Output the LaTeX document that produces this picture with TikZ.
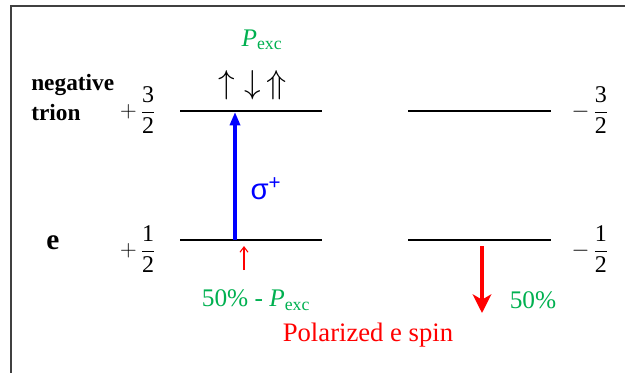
\documentclass[tikz,border=0pt]{standalone}
\usepackage{fontspec}
\setmainfont{Liberation Serif}
\newfontfamily\arialfont{Liberation Sans}
\usepackage{tikz}
\usetikzlibrary{arrows.meta, positioning}
\definecolor{mygreen}{HTML}{00B050}
\definecolor{framegray}{HTML}{404040}
\newcommand{\Pexc}{{\itshape P}\textsubscript{exc}}
\tikzset{
	level/.style={
			line width=1.6pt,
			draw=black
		},
	pump/.style={
			line width=2.4pt,
			draw=blue,
			-{Triangle[length=10pt,width=7.5pt]}
		},
	relaxsmall/.style={
			line width=0.8pt,
			draw=red,
			-{Straight Barb[length=4pt,width=6pt]}
		},
	relaxbig/.style={
			line width=2.6pt,
			draw=red,
			-{Stealth[length=14pt,width=14pt,inset=4pt]}
		},
	spinnode/.style={
			inner sep=0pt,
			font=\fontsize{23}{23}\selectfont
		},
	fracnode/.style={
			inner sep=0pt,
			font=\fontsize{18}{20}\selectfont
		},
	namenode/.style={
			inner sep=0pt,
			align=left,
			font=\fontsize{17.5}{21.8}\selectfont\rmfamily\bfseries
		},
	greennode/.style={
			inner sep=0pt,
			text=mygreen,
			font=\fontsize{19}{22}\selectfont\rmfamily
		}
}

\begin{document}
\begin{tikzpicture}[x=0.75pt,y=-0.75pt]
\useasboundingbox (0,0) rectangle (625,372);
\draw[framegray, line width=1.2pt] (11,380) |- (640,6);

% energy levels
\coordinate (tL1) at (180,111);
\coordinate (tL2) at (322,111);
\coordinate (tR1) at (408,111);
\coordinate (tR2) at (551,111);
\coordinate (eL1) at (180,240);
\coordinate (eL2) at (322,240);
\coordinate (eR1) at (408,240);
\coordinate (eR2) at (551,240);
\draw[level] (tL1) -- (tL2);
\draw[level] (tR1) -- (tR2);
\draw[level] (eL1) -- (eL2);
\draw[level] (eR1) -- (eR2);

% labels
\node[namenode, anchor=base west] (lTrion) at (31,120) {negative\\trion};
\node[namenode, font=\fontsize{22}{24}\selectfont\rmfamily\bfseries] (lE) at (53,243) {e};
\node[fracnode] (fTL) at (138,110) {$+\,\displaystyle\frac{\mbox{3}}{\mbox{2}}$};
\node[fracnode] (fTR) at (590,110) {$-\,\displaystyle\frac{\mbox{3}}{\mbox{2}}$};
\node[fracnode] (fEL) at (138,249) {$+\,\displaystyle\frac{\mbox{1}}{\mbox{2}}$};
\node[fracnode] (fER) at (590,249) {$-\,\displaystyle\frac{\mbox{1}}{\mbox{2}}$};

% trion spins
\node[greennode] (pTop) at (262,40) {\Pexc};
\node[spinnode] (sUp) at (227,85) {$\uparrow$};
\node[spinnode] (sDown) at (253,85) {$\downarrow$};
\node[spinnode] (sDUp) at (277,85) {$\Uparrow$};

% transitions
\coordinate (pumpS) at (235,240);
\coordinate (pumpE) at (235,112);
\draw[pump] (pumpS) -- (pumpE);
\node[inner sep=0pt, text=blue, font=\fontsize{22}{22}\arialfont] (sigma) at (266,189) {σ\textsuperscript{+}};
\coordinate (smallS) at (244,270);
\coordinate (smallE) at (244,246);
\draw[relaxsmall] (smallS) -- (smallE);
\coordinate (bigS) at (482,246);
\coordinate (bigE) at (482,313);
\draw[relaxbig] (bigS) -- (bigE);

% populations
\node[greennode] (pLeft) at (256,300) {50\% - \Pexc};
\node[greennode] (pRight) at (533,300) {50\%};
\node[inner sep=0pt, text=red, font=\fontsize{20}{22}\selectfont\rmfamily] (pol) at (368,335) {Polarized e spin};

\end{tikzpicture}
\end{document}
